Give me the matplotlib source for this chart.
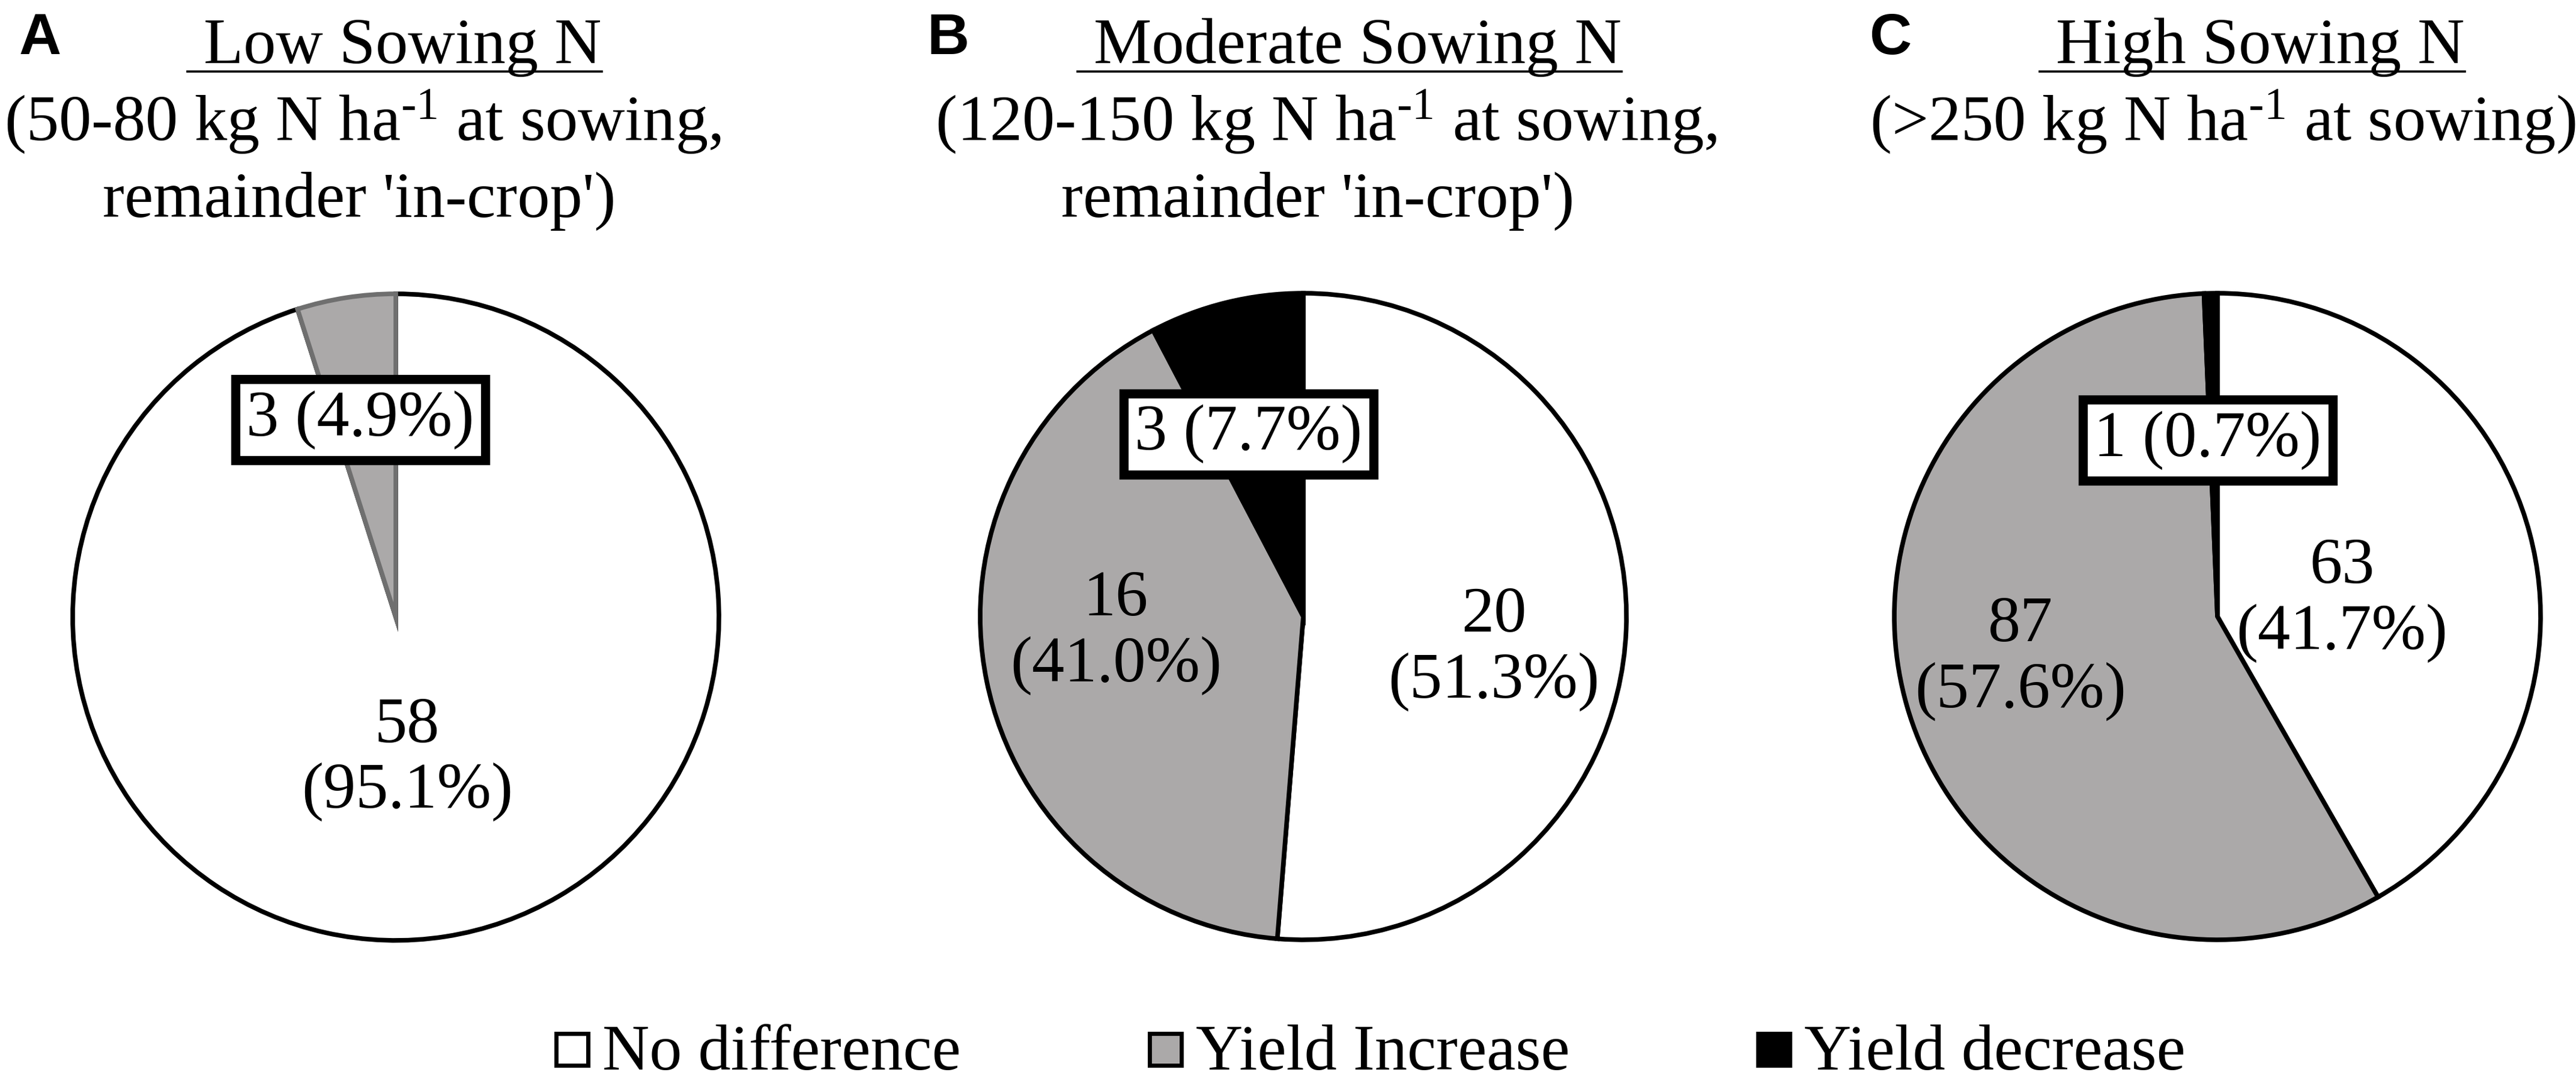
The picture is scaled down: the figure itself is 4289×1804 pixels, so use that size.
import matplotlib
matplotlib.use("Agg")
import matplotlib.pyplot as plt
import matplotlib.patches as mpatches
from matplotlib.lines import Line2D

plt.rcParams['font.family'] = ['Liberation Serif', 'DejaVu Serif']
plt.rcParams['mathtext.fontset'] = 'custom'
plt.rcParams['mathtext.rm'] = 'Liberation Serif'
plt.rcParams['mathtext.it'] = 'Liberation Serif:italic'
plt.rcParams['mathtext.bf'] = 'Liberation Serif:bold'

# data
categories = ['No difference', 'Yield Increase', 'Yield decrease']
panel_letters = ['A', 'B', 'C']
panel_titles = [' Low Sowing N', ' Moderate Sowing N', ' High Sowing N']
panel_subtitles = [
    ["(50-80 kg N ha$^{\\text{-1}}$ at sowing,", "remainder 'in-crop')"],
    ["(120-150 kg N ha$^{\\text{-1}}$ at sowing,", "remainder 'in-crop')"],
    ["(>250 kg N ha$^{\\text{-1}}$ at sowing)"],
]
low_counts = [58, 3, 0]
moderate_counts = [20, 16, 3]
high_counts = [63, 87, 1]
all_counts = [low_counts, moderate_counts, high_counts]

# style / layout
colors = ['#ffffff', '#aba9a9', '#000000']
edge_colors = [['#000000', '#6f6f6f', '#000000'],
               ['#000000', '#000000', '#000000'],
               ['#000000', '#000000', '#000000']]
W, H = 4289, 1804
R = 538
centers = [(659, 1027), (2170, 1026), (3692, 1026)]
letter_x = [32, 1544, 3113]
title_x = [312, 1794, 3396]
sub_x = [[7, 171], [1557, 1767], [3113]]
# label offsets (in pie radii) for each slice
label_pos = [
    [(0.035, -0.44), (-0.11, 0.61), None],
    [(0.59, -0.10), (-0.58, -0.05), (-0.17, 0.565)],
    [(0.385, 0.05), (-0.61, -0.13), (-0.03, 0.545)],
]
boxed = [1, 2, 2]
FS = 78


def fx(x):
    return x / W


def fy(y):
    return 1 - y / H


fig = plt.figure(figsize=(W / 100, H / 100), dpi=100)

title_texts = []
for i in range(3):
    fig.text(fx(letter_x[i]), fy(90), panel_letters[i], fontsize=70,
             fontweight='bold', family='Liberation Sans', ha='left', va='baseline')
    t = fig.text(fx(title_x[i]), fy(105), panel_titles[i], fontsize=FS,
                 ha='left', va='baseline')
    title_texts.append(t)
    for j, line in enumerate(panel_subtitles[i]):
        fig.text(fx(sub_x[i][j]), fy(233 + 128 * j), line, fontsize=FS,
                 ha='left', va='baseline')

    cx, cy = centers[i]
    ax = fig.add_axes([fx(cx - R), fy(cy + R), 2 * R / W, 2 * R / H])
    counts = all_counts[i]
    keep = [k for k in range(3) if counts[k] > 0]
    wedges, _ = ax.pie([counts[k] for k in keep], colors=[colors[k] for k in keep],
                       startangle=90, counterclock=False, radius=1,
                       wedgeprops=dict(linewidth=5.5, joinstyle='miter'))
    for w, k in zip(wedges, keep):
        w.set_edgecolor(edge_colors[i][k])
        w.set_clip_on(False)
    ax.set_xlim(-1, 1)
    ax.set_ylim(-1, 1)
    ax.set_aspect('equal')
    ax.axis('off')

    total = sum(counts)
    for k in keep:
        pct = 100 * counts[k] / total
        dx, dy = label_pos[i][k]
        if k == boxed[i]:
            ax.text(dx, dy, f"{counts[k]} ({pct:.1f}%)", fontsize=FS,
                    ha='center', va='center', zorder=5,
                    bbox=dict(boxstyle='square,pad=0.17', fc='white',
                              ec='black', lw=11))
        else:
            ax.text(dx, dy, f"{counts[k]}\n({pct:.1f}%)", fontsize=FS,
                    ha='center', va='center', linespacing=1.15)

# underline titles
fig.canvas.draw()
renderer = fig.canvas.get_renderer()
for t in title_texts:
    bb = t.get_window_extent(renderer).transformed(fig.transFigure.inverted())
    fig.add_artist(Line2D([bb.x0, bb.x1], [fy(119), fy(119)], color='black', lw=2.6))

# legend
leg_x = [922, 1910, 2923]
leg_base = 1780
sq = 60
for k in range(3):
    x0 = leg_x[k]
    fig.add_artist(mpatches.Rectangle((fx(x0 + 3.5), fy(leg_base - 4 - 3.5)),
                                      (sq - 7) / W, (sq - 7) / H,
                                      transform=fig.transFigure, fc=colors[k],
                                      ec='black', lw=5))
    fig.text(fx(x0 + sq + 21), fy(leg_base), categories[k], fontsize=FS,
             ha='left', va='baseline')

fig.savefig('out.png', dpi=100, facecolor='white')
